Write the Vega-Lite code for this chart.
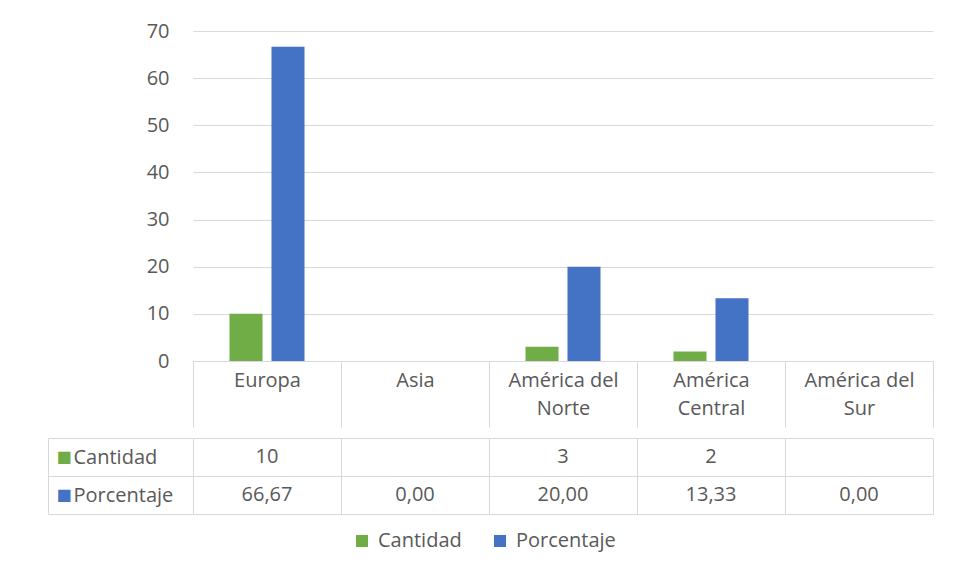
{
  "$schema": "https://vega.github.io/schema/vega-lite/v6.json",
  "padding": {"left": 47, "top": 21, "right": 5, "bottom": 5},
  "background": "white",
  "config": {
    "font": "Open Sans",
    "view": {"stroke": null},
    "locale": {"number": {"decimal": ",", "thousands": ".", "grouping": [3], "currency": ["", " €"]}},
    "axis": {"labelFont": "Open Sans", "labelColor": "#595959", "labelFontSize": 20}
  },
  "datasets": {
    "tabla": [
      {"region": "Europa", "serie": "Cantidad", "valor": 10},
      {"region": "Europa", "serie": "Porcentaje", "valor": 66.67},
      {"region": "Asia", "serie": "Porcentaje", "valor": 0},
      {"region": "América del Norte", "serie": "Cantidad", "valor": 3},
      {"region": "América del Norte", "serie": "Porcentaje", "valor": 20},
      {"region": "América Central", "serie": "Cantidad", "valor": 2},
      {"region": "América Central", "serie": "Porcentaje", "valor": 13.33},
      {"region": "América del Sur", "serie": "Porcentaje", "valor": 0}
    ]
  },
  "data": {"name": "tabla"},
  "spacing": 0,
  "vconcat": [
    {
      "width": 740,
      "height": 330,
      "mark": {"type": "bar"},
      "encoding": {
        "x": {
          "field": "region", "type": "nominal", "title": null,
          "scale": {"type": "band", "domain": ["Europa", "Asia", "América del Norte", "América Central", "América del Sur"], "paddingInner": 0, "paddingOuter": 0},
          "axis": {
            "tickBand": "extent", "tickSize": 66, "tickColor": "#d9d9d9", "domainColor": "#d9d9d9",
            "labelAngle": 0, "labelBaseline": "middle", "labelLineHeight": 28, "labelPadding": -47,
            "grid": false,
            "labelExpr": "(isString(datum.value) && indexof(datum.value, 'América') == 0) ? [slice(datum.value, 0, lastindexof(datum.value, ' ')), slice(datum.value, lastindexof(datum.value, ' ') + 1)] : (isString(datum.value) ? datum.value : '')"
          }
        },
        "xOffset": {
          "field": "serie", "type": "nominal",
          "scale": {"domain": ["Cantidad", "Porcentaje"], "paddingInner": 0.214, "paddingOuter": 0.869}
        },
        "y": {
          "field": "valor", "type": "quantitative", "title": null,
          "scale": {"domain": [0, 70], "nice": false},
          "axis": {"values": [0, 10, 20, 30, 40, 50, 60, 70], "domain": false, "ticks": false, "labelPadding": 24, "grid": true, "gridColor": "#d9d9d9"}
        },
        "color": {
          "field": "serie", "type": "nominal",
          "scale": {"domain": ["Cantidad", "Porcentaje"], "range": ["#70AD47", "#4472C4"]},
          "legend": {
            "title": null, "orient": "none", "direction": "horizontal", "legendX": 159, "legendY": 500,
            "symbolType": "square", "symbolSize": 144, "symbolStrokeWidth": 0,
            "labelFontSize": 20, "labelColor": "#595959", "labelFont": "Open Sans",
            "columnPadding": 28, "labelOffset": 6
          }
        }
      }
    },
    {
      "width": 740,
      "height": 76,
      "encoding": {
        "x": {
          "field": "region", "type": "nominal", "title": null,
          "scale": {"type": "band", "domain": ["Europa", "Asia", "América del Norte", "América Central", "América del Sur"], "paddingInner": 0, "paddingOuter": 0},
          "axis": {"labels": false, "ticks": false, "domain": false, "grid": true, "tickBand": "extent", "gridColor": "#d9d9d9"}
        }
      },
      "layer": [
        {
          "transform": [{"filter": "datum.serie == 'Cantidad'"}],
          "mark": {"type": "text", "fontSize": 20, "color": "#595959", "font": "Open Sans"},
          "encoding": {
            "y": {
              "field": "serie", "type": "nominal", "title": null,
              "scale": {"type": "band", "domain": ["Cantidad", "Porcentaje"], "paddingInner": 0, "paddingOuter": 0},
              "axis": {
                "orient": "left", "labelAlign": "left", "labelPadding": -25,
                "ticks": true, "tickSize": 145, "tickColor": "#d9d9d9", "tickBand": "extent",
                "domain": false, "grid": true, "gridColor": "#d9d9d9"
              }
            },
            "text": {"field": "valor", "type": "quantitative", "format": "d"}
          }
        },
        {
          "transform": [{"filter": "datum.serie == 'Porcentaje'"}],
          "mark": {"type": "text", "fontSize": 20, "color": "#595959", "font": "Open Sans"},
          "encoding": {
            "y": {
              "field": "serie", "type": "nominal", "title": null,
              "scale": {"type": "band", "domain": ["Cantidad", "Porcentaje"], "paddingInner": 0, "paddingOuter": 0},
              "axis": null
            },
            "text": {"field": "valor", "type": "quantitative", "format": ".2f"}
          }
        },
        {
          "mark": {"type": "point", "opacity": 0},
          "encoding": {
            "y": {
              "field": "serie", "type": "nominal", "title": null,
              "scale": {"type": "band", "domain": ["Cantidad", "Porcentaje"], "paddingInner": 0, "paddingOuter": 0},
              "axis": {
                "orient": "left", "offset": 145, "labelExpr": "'■'",
                "labelColor": {"condition": {"test": "datum.value == 'Cantidad'", "value": "#70AD47"}, "value": "#4472C4"},
                "labelFont": "DejaVu Sans", "labelFontSize": 16, "labelAlign": "left", "labelPadding": -8,
                "ticks": false, "domain": true, "domainColor": "#d9d9d9", "grid": false
              }
            }
          }
        }
      ],
      "resolve": {"axis": {"y": "independent"}}
    }
  ]
}
